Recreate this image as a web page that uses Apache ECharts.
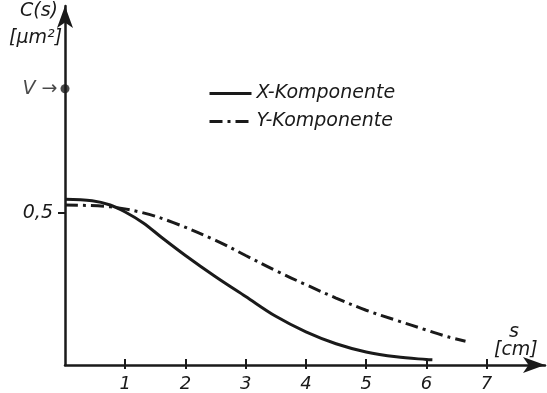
<!DOCTYPE html>
<html>
<head>
<meta charset="utf-8">
<script src="https://cdn.jsdelivr.net/npm/echarts@6/dist/echarts.min.js"></script>
<style>
  html, body { margin: 0; padding: 0; background: #fff; }
  #chart { width: 547px; height: 393px; }
</style>
</head>
<body>
<div id="chart"></div>
<script>
// values
const sX = [0, 0.45, 0.75, 1, 1.3, 1.6, 2, 2.5, 3, 3.5, 4, 4.5, 5, 5.5, 6, 6.1];
const cX = [0.545, 0.54, 0.526, 0.503, 0.467, 0.42, 0.36, 0.29, 0.225, 0.16, 0.109, 0.07, 0.043, 0.027, 0.018, 0.017];
const sY = [0, 0.75, 1.3, 1.8, 2.5, 3, 3.5, 4, 4.5, 5, 5.5, 6, 6.35, 6.65];
const cY = [0.526, 0.52, 0.5, 0.468, 0.41, 0.36, 0.31, 0.264, 0.22, 0.18, 0.147, 0.115, 0.093, 0.078];
const xTicks = [1, 2, 3, 4, 5, 6, 7];
const yTicks = [0.5];
const vValue = 0.908;

const INK = '#1a1a1a';
const FONT = 'DejaVu Sans';
const txt = { fontFamily: FONT, fontStyle: 'italic', fontSize: 19, color: INK };
const lbl = (text, left, top) => ({ type: 'text', left: left, top: top, style: { text: text, font: 'italic 19px "DejaVu Sans"', fill: INK } });

const chart = echarts.init(document.getElementById('chart'));
chart.setOption({
    animation: false,
    grid: { left: 65, right: 2, top: 6, bottom: 28 },
    legend: {
        orient: 'vertical',
        left: 203,
        top: 79,
        itemWidth: 42,
        itemHeight: 14,
        itemGap: 9,
        itemStyle: { opacity: 0 },
        lineStyle: { width: 3 },
        textStyle: txt,
        data: ['X-Komponente', 'Y-Komponente']
    },
    xAxis: [{
        type: 'value',
        min: 0,
        max: 7.97,
        splitLine: { show: false },
        axisLine: { lineStyle: { color: INK, width: 2.5 }, symbol: ['none', 'arrow'], symbolSize: [12, 22] },
        axisTick: { customValues: xTicks, length: 6, inside: true, lineStyle: { color: INK, width: 2 } },
        axisLabel: Object.assign({ customValues: xTicks, margin: 10 }, txt, { fontSize: 18 })
    }, {
        type: 'value',
        position: 'bottom',
        min: 0,
        max: 7.97,
        splitLine: { show: false },
        axisLine: { show: false },
        axisTick: { customValues: xTicks, length: 4, lineStyle: { color: INK, width: 2 } },
        axisLabel: { show: false }
    }],
    yAxis: {
        type: 'value',
        min: 0,
        max: 1.18,
        splitLine: { show: false },
        axisLine: { lineStyle: { color: INK, width: 2.5 }, symbol: ['none', 'arrow'], symbolSize: [12, 22] },
        axisTick: { customValues: yTicks, length: 7, lineStyle: { color: INK, width: 2 } },
        axisLabel: Object.assign({
            customValues: yTicks,
            margin: 12,
            formatter: v => String(v).replace('.', ',')
        }, txt)
    },
    graphic: [
        lbl('C(s)', 20, 2),
        lbl('[μm²]', 9, 29),
        lbl('s', 509, 323),
        lbl('[cm]', 494, 341)
    ],
    series: [{
        name: 'X-Komponente',
        type: 'line',
        smooth: 0.35,
        symbol: 'none',
        color: INK,
        lineStyle: { color: INK, width: 3 },
        data: sX.map((s, i) => [s, cX[i]])
    }, {
        name: 'Y-Komponente',
        type: 'line',
        smooth: 0.35,
        symbol: 'none',
        color: INK,
        lineStyle: { color: INK, width: 3, type: [13, 5, 3, 5] },
        data: sY.map((s, i) => [s, cY[i]])
    }, {
        name: 'V',
        type: 'scatter',
        symbolSize: 9,
        itemStyle: { color: INK },
        label: Object.assign({ show: true, position: 'left', distance: 3, formatter: 'V →' }, txt),
        data: [[0, vValue]]
    }]
});
</script>
</body>
</html>
